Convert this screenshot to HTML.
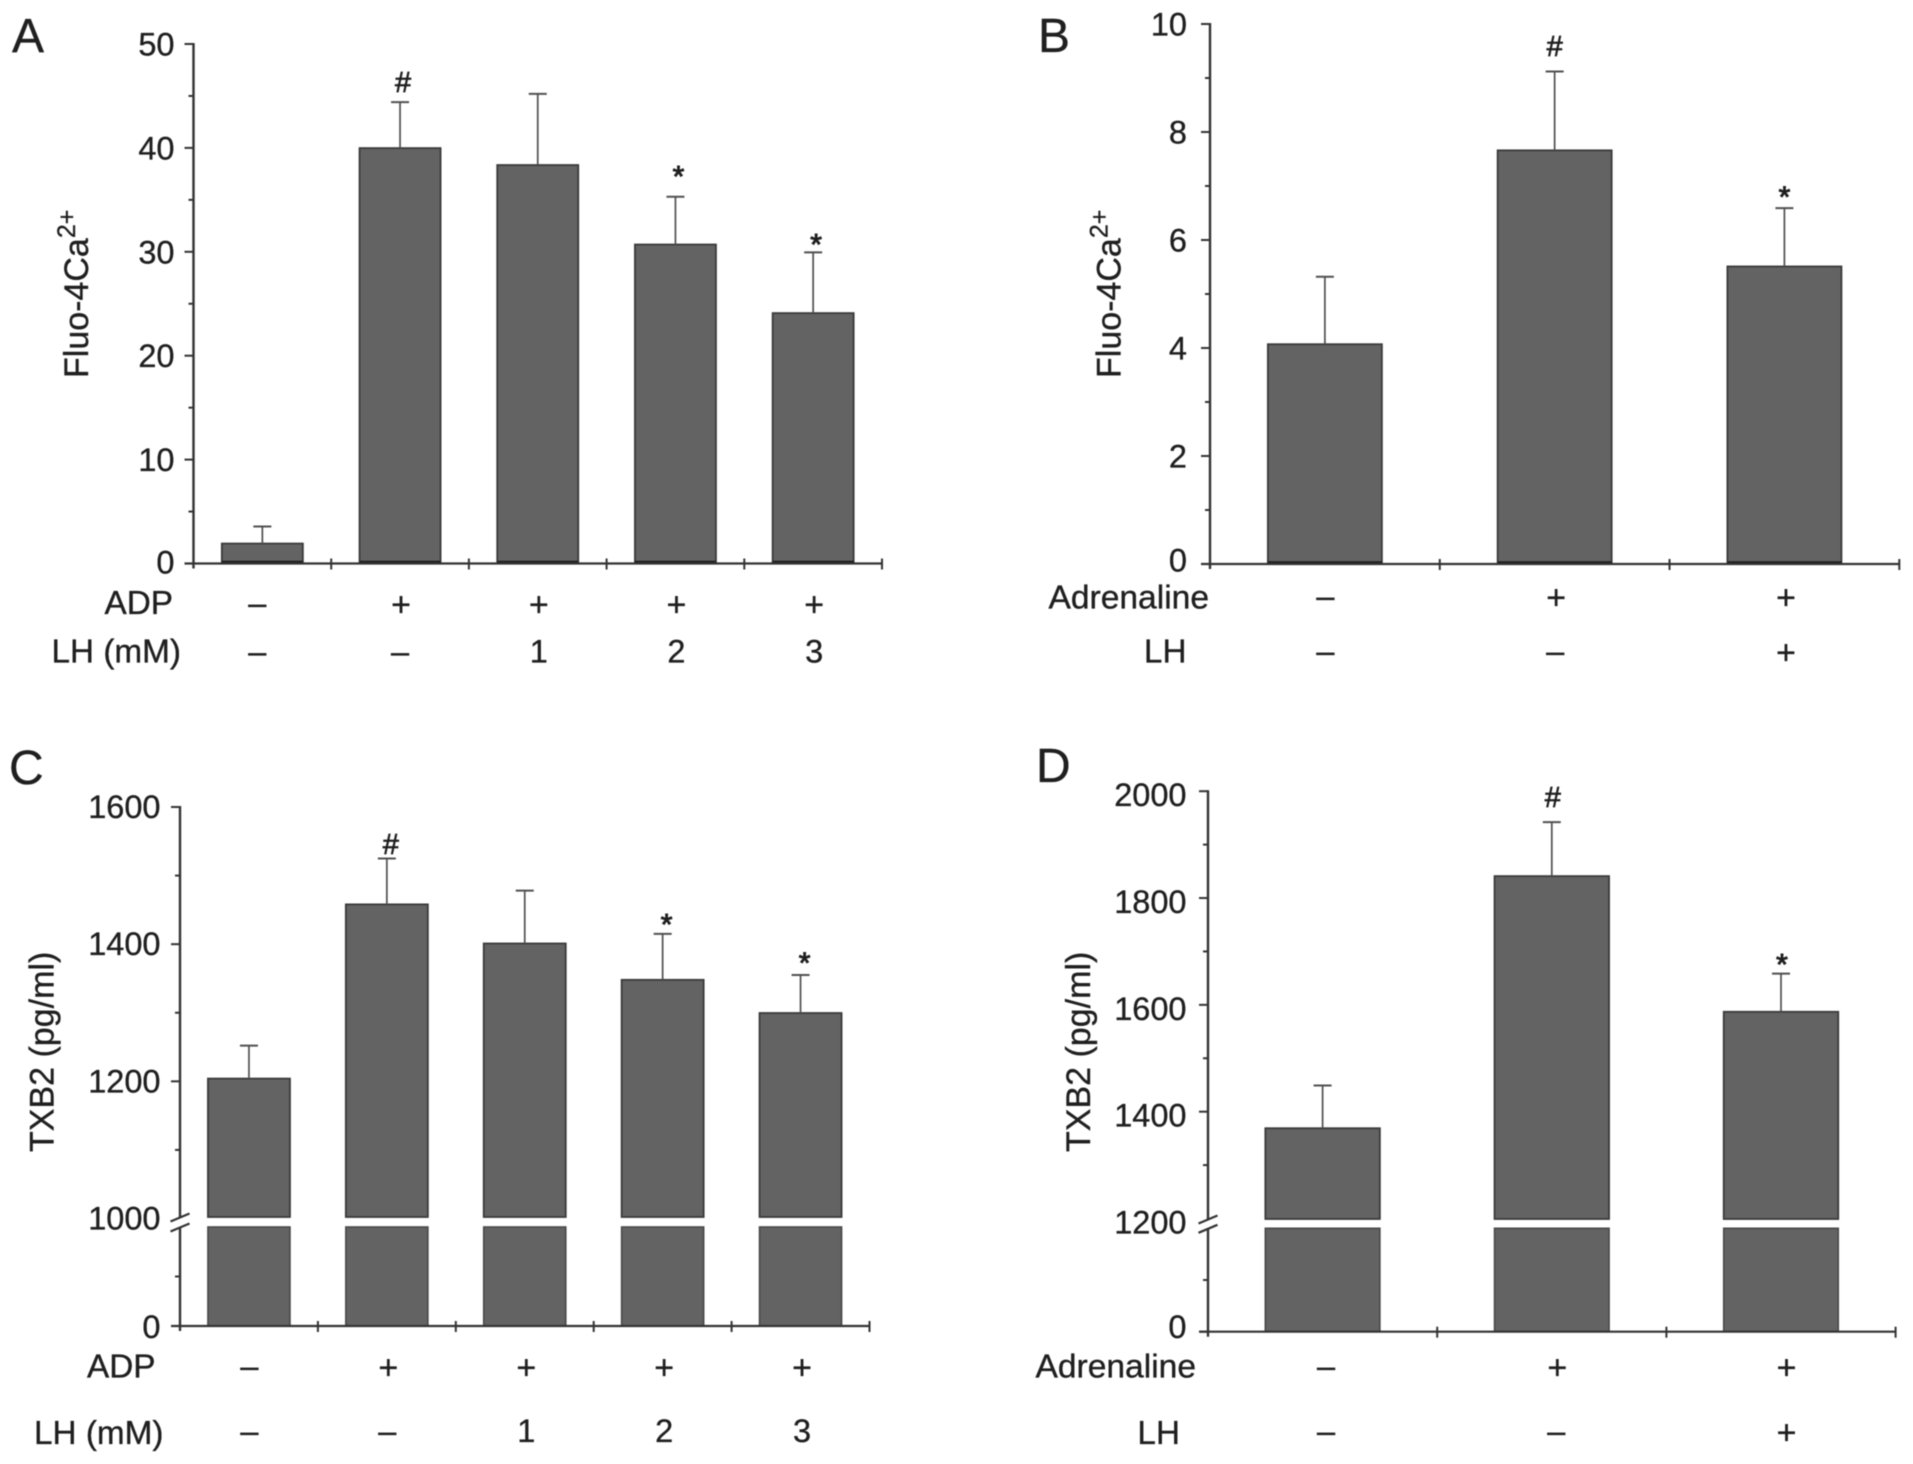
<!DOCTYPE html>
<html lang="en">
<head>
<meta charset="utf-8">
<title>Fluo-4Ca2+ and TXB2 bar charts</title>
<style>
  html, body { margin: 0; padding: 0; background: #fff; }
  body { width: 1913px; height: 1464px; overflow: hidden; }
  svg { display: block; filter: blur(0.55px); }
  text { font-family: "Liberation Sans", Arial, sans-serif; fill: #1f1f1f; stroke: #1f1f1f; stroke-width: 0.35px; }
  .letter { font-size: 48px; }
  .title { font-size: 34px; }
  .row { font-size: 33.3px; text-anchor: end; }
  .row-wide { font-size: 33.6px; text-anchor: end; }
</style>
</head>
<body>
<svg id="figure" width="1913" height="1464" viewBox="0 0 1913 1464" xmlns="http://www.w3.org/2000/svg">
  <rect width="1913" height="1464" fill="#ffffff"/>

  <text class="letter" x="12" y="52">A</text>
  <text class="letter" x="1038" y="52">B</text>
  <text class="letter" x="9" y="784">C</text>
  <text class="letter" x="1036" y="782">D</text>

  <text class="title" transform="translate(88 378) rotate(-90)">Fluo-4Ca<tspan dy="-13" font-size="25">2+</tspan></text>
  <text class="title" transform="translate(1120.5 378) rotate(-90)">Fluo-4Ca<tspan dy="-13" font-size="25">2+</tspan></text>
  <text class="title" transform="translate(53.5 1152) rotate(-90)">TXB2 (pg/ml)</text>
  <text class="title" transform="translate(1090 1152) rotate(-90)">TXB2 (pg/ml)</text>

  <text class="row" x="173" y="614">ADP</text>
  <text class="row" x="181" y="662.5">LH (mM)</text>
  <text class="row-wide" x="1209" y="608.5">Adrenaline</text>
  <text class="row" x="1186.5" y="662.5">LH</text>
  <text class="row" x="155.5" y="1377.5">ADP</text>
  <text class="row" x="163.5" y="1444">LH (mM)</text>
  <text class="row-wide" x="1196" y="1377.5">Adrenaline</text>
  <text class="row" x="1180" y="1444">LH</text>
</svg>

<script>
// Panel A data
const aMeans = [1.92, 39.98, 38.35, 30.7, 24.1];
const aErrorTops = [3.56, 44.4, 45.2, 35.3, 29.95];
const aMarks = ['', '#', '', '*', '*'];
const aMarkValues = [null, 45.4, null, 37.55, 31.0];
const aAgonist = ['–', '+', '+', '+', '+'];
const aInhibitor = ['–', '–', '1', '2', '3'];
const aMajorTicks = [0, 10, 20, 30, 40, 50];
const aMinorTicks = [5, 15, 25, 35, 45];

// Panel B data
const bMeans = [4.07, 7.66, 5.51];
const bErrorTops = [5.32, 9.12, 6.59];
const bMarks = ['', '#', '*'];
const bMarkValues = [null, 9.41, 6.85];
const bAgonist = ['–', '+', '+'];
const bInhibitor = ['–', '–', '+'];
const bMajorTicks = [0, 2, 4, 6, 8, 10];
const bMinorTicks = [1, 3, 5, 7, 9];

// Panel C data
const cMeans = [1204, 1458, 1401, 1348, 1299.6];
const cErrorTops = [1252, 1525, 1478, 1415, 1355];
const cMarks = ['', '#', '', '*', '*'];
const cMarkValues = [null, 1531.5, null, 1432.8, 1377];
const cAgonist = ['–', '+', '+', '+', '+'];
const cInhibitor = ['–', '–', '1', '2', '3'];
const cMajorTicks = [0, 1000, 1200, 1400, 1600];
const cMinorTicks = [500, 1100, 1300, 1500];

// Panel D data
const dMeans = [1369, 1841, 1587];
const dErrorTops = [1449, 1942, 1658.5];
const dMarks = ['', '#', '*'];
const dMarkValues = [null, 1970, 1681];
const dAgonist = ['–', '+', '+'];
const dInhibitor = ['–', '–', '+'];
const dMajorTicks = [0, 1200, 1400, 1600, 1800, 2000];
const dMinorTicks = [600, 1300, 1500, 1700, 1900];

const SVG_NS = 'http://www.w3.org/2000/svg';
const figure = document.getElementById('figure');

function make(tag, parent, attrs) {
  const node = document.createElementNS(SVG_NS, tag);
  for (const key in attrs) node.setAttribute(key, attrs[key]);
  parent.appendChild(node);
  return node;
}

function drawPanel(id, d, L) {
  const panel = make('g', figure, {});
  
  

  const yMax = d.major[d.major.length - 1];
  const yScale = function (v) {
    if (L.breakValue === null) {
      return L.y0 - (v / yMax) * (L.y0 - L.yTop);
    }
    if (v >= L.breakValue) {
      return L.yBreak - ((v - L.breakValue) / (yMax - L.breakValue)) * (L.yBreak - L.yTop);
    }
    return L.y0 - (v / L.breakValue) * (L.y0 - L.gapBottom);
  };
  const count = d.means.length;
  const step = (L.xEnd - L.x0) / count;
  const xScale = function (i) { return L.x0 + (i + 0.5) * step; };

  // bars
  d.means.forEach(function (v, i) {
    const left = xScale(i) - L.barWidth / 2;
    const top = yScale(v);
    if (L.breakValue === null) {
      const bar = make('rect', panel, { x: left, y: top, width: L.barWidth, height: L.y0 - top, fill: '#636363', stroke: '#3a3a3a', 'stroke-width': 1.8 });
      
      
      const base = make('line', panel, { x1: left, x2: left + L.barWidth, y1: L.y0 - 1.5, y2: L.y0 - 1.5, stroke: '#1e1e1e', 'stroke-width': 2.5 });
      
      
    } else {
      const upper = make('rect', panel, { x: left, y: top, width: L.barWidth, height: L.gapTop - top, fill: '#636363', stroke: '#3a3a3a', 'stroke-width': 1.8 });
      
      
      const lower = make('rect', panel, { x: left, y: L.gapBottom, width: L.barWidth, height: L.y0 - L.gapBottom, fill: '#636363', stroke: '#484848', 'stroke-width': 1.6 });
      
      
    }
  });

  // error bars
  d.errors.forEach(function (v, i) {
    const cx = xScale(i);
    const stem = make('line', panel, { x1: cx, x2: cx, y1: yScale(d.means[i]), y2: yScale(v), stroke: '#505050', 'stroke-width': 1.7 });
    
    
    const cap = make('line', panel, { x1: cx - 9, x2: cx + 9, y1: yScale(v), y2: yScale(v), stroke: '#505050', 'stroke-width': 2 });
    
    
  });

  // significance marks
  d.marks.forEach(function (m, i) {
    if (!m) return;
    const isStar = m === '*';
    const mark = make('text', panel, { x: xScale(i) + L.markDx, y: yScale(d.markValues[i]) + (isStar ? 13 : 0), 'text-anchor': 'middle', 'font-size': isStar ? 30 : 29 });
    mark.textContent = m;
    mark.setAttribute('stroke-width', isStar ? 1 : 0.7);
    mark.style.strokeWidth = isStar ? '1px' : '0.7px';
    
    
  });

  // y axis
  const axisColor = '#333333';
  if (L.breakValue === null) {
    const yAxis = make('line', panel, { x1: L.x0, x2: L.x0, y1: L.yTop - 1, y2: L.y0 + 5, stroke: axisColor, 'stroke-width': 2.4 });
    
    
  } else {
    const yAxisUpper = make('line', panel, { x1: L.x0, x2: L.x0, y1: L.yTop - 1, y2: L.gapTop, stroke: axisColor, 'stroke-width': 2.4 });
    
    
    const yAxisLower = make('line', panel, { x1: L.x0, x2: L.x0, y1: L.gapBottom, y2: L.y0 + 5, stroke: axisColor, 'stroke-width': 2.4 });
    
    
    const slashTop = make('line', panel, { x1: L.x0 - 9.5, x2: L.x0 + 9.5, y1: L.gapTop + 4.5, y2: L.gapTop - 3.5, stroke: axisColor, 'stroke-width': 2.2 });
    
    
    const slashBottom = make('line', panel, { x1: L.x0 - 9.5, x2: L.x0 + 9.5, y1: L.gapBottom + 4.5, y2: L.gapBottom - 3.5, stroke: axisColor, 'stroke-width': 2.2 });
    
    
  }

  // y ticks and tick labels
  d.major.forEach(function (v) {
    const y = yScale(v);
    if (v !== L.breakValue) {
      const tick = make('line', panel, { x1: L.x0 - 9, x2: L.x0, y1: y, y2: y, stroke: axisColor, 'stroke-width': 2 });
      
      
    }
    const dy = v === 0 ? L.zeroDy : L.labelDy;
    const label = make('text', panel, { x: L.labelRight, y: y + 11.5 + dy, 'text-anchor': 'end', 'font-size': 32.5 });
    label.textContent = String(v);
    
    
  });
  d.minor.forEach(function (v) {
    const y = yScale(v);
    const tick = make('line', panel, { x1: L.x0 - 5, x2: L.x0, y1: y, y2: y, stroke: axisColor, 'stroke-width': 2 });
    
    
  });

  // x axis
  const xAxis = make('line', panel, { x1: L.x0 - 9, x2: L.xEnd, y1: L.y0, y2: L.y0, stroke: axisColor, 'stroke-width': 2.2 });
  
  
  for (let i = 1; i <= count; i++) {
    const xt = L.x0 + i * step;
    const tick = make('line', panel, { x1: xt, x2: xt, y1: L.y0 - 5, y2: L.y0 + 6, stroke: axisColor, 'stroke-width': 2 });
    
    
  }

  // condition table rows
  const cellX = function (i, s) {
    return xScale(i) + L.rowDx + (i === 0 ? L.firstDx : 0) + (s === '+' || /[0-9]/.test(s) ? 1 : 0);
  };
  const cellY = function (base, s) {
    return base + (s === '+' ? 2 : 0);
  };
  d.rowOne.forEach(function (s, i) {
    const cell = make('text', panel, { x: cellX(i, s), y: cellY(L.rowOneY, s), 'text-anchor': 'middle', 'font-size': s === '+' ? 34 : 32.5 });
    cell.textContent = s;
    
    
  });
  d.rowTwo.forEach(function (s, i) {
    const cell = make('text', panel, { x: cellX(i, s), y: cellY(L.rowTwoY, s), 'text-anchor': 'middle', 'font-size': s === '+' ? 34 : 32.5 });
    cell.textContent = s;
    
    
  });
}

drawPanel('a',
  { means: aMeans, errors: aErrorTops, marks: aMarks, markValues: aMarkValues, rowOne: aAgonist, rowTwo: aInhibitor, major: aMajorTicks, minor: aMinorTicks },
  { x0: 193.5, xEnd: 882, y0: 563.5, yTop: 44, breakValue: null, barWidth: 81, labelRight: 174.5, labelDy: 0, zeroDy: -1.5, rowDx: 0, firstDx: -5, markDx: 3, rowOneY: 614, rowTwoY: 662.5 });

drawPanel('b',
  { means: bMeans, errors: bErrorTops, marks: bMarks, markValues: bMarkValues, rowOne: bAgonist, rowTwo: bInhibitor, major: bMajorTicks, minor: bMinorTicks },
  { x0: 1210, xEnd: 1899.3, y0: 564, yTop: 24, breakValue: null, barWidth: 114, labelRight: 1187, labelDy: 0, zeroDy: -4, rowDx: 0.5, firstDx: 0, markDx: 0, rowOneY: 607, rowTwoY: 662 });

drawPanel('c',
  { means: cMeans, errors: cErrorTops, marks: cMarks, markValues: cMarkValues, rowOne: cAgonist, rowTwo: cInhibitor, major: cMajorTicks, minor: cMinorTicks },
  { x0: 180, xEnd: 869.5, y0: 1326, yTop: 807, breakValue: 1000, yBreak: 1218.5, gapTop: 1217, gapBottom: 1227, barWidth: 82, labelRight: 160.5, labelDy: -0.5, zeroDy: 0.5, rowDx: 0.5, firstDx: 0, markDx: 4, rowOneY: 1377, rowTwoY: 1442 });

drawPanel('d',
  { means: dMeans, errors: dErrorTops, marks: dMarks, markValues: dMarkValues, rowOne: dAgonist, rowTwo: dInhibitor, major: dMajorTicks, minor: dMinorTicks },
  { x0: 1208, xEnd: 1895.6, y0: 1331.7, yTop: 791.2, breakValue: 1200, yBreak: 1218.5, gapTop: 1219, gapBottom: 1228.3, barWidth: 114.5, labelRight: 1186.5, labelDy: 3.5, zeroDy: -5, rowDx: 4.5, firstDx: -1, markDx: 1, rowOneY: 1377, rowTwoY: 1442 });
</script>
</body>
</html>
